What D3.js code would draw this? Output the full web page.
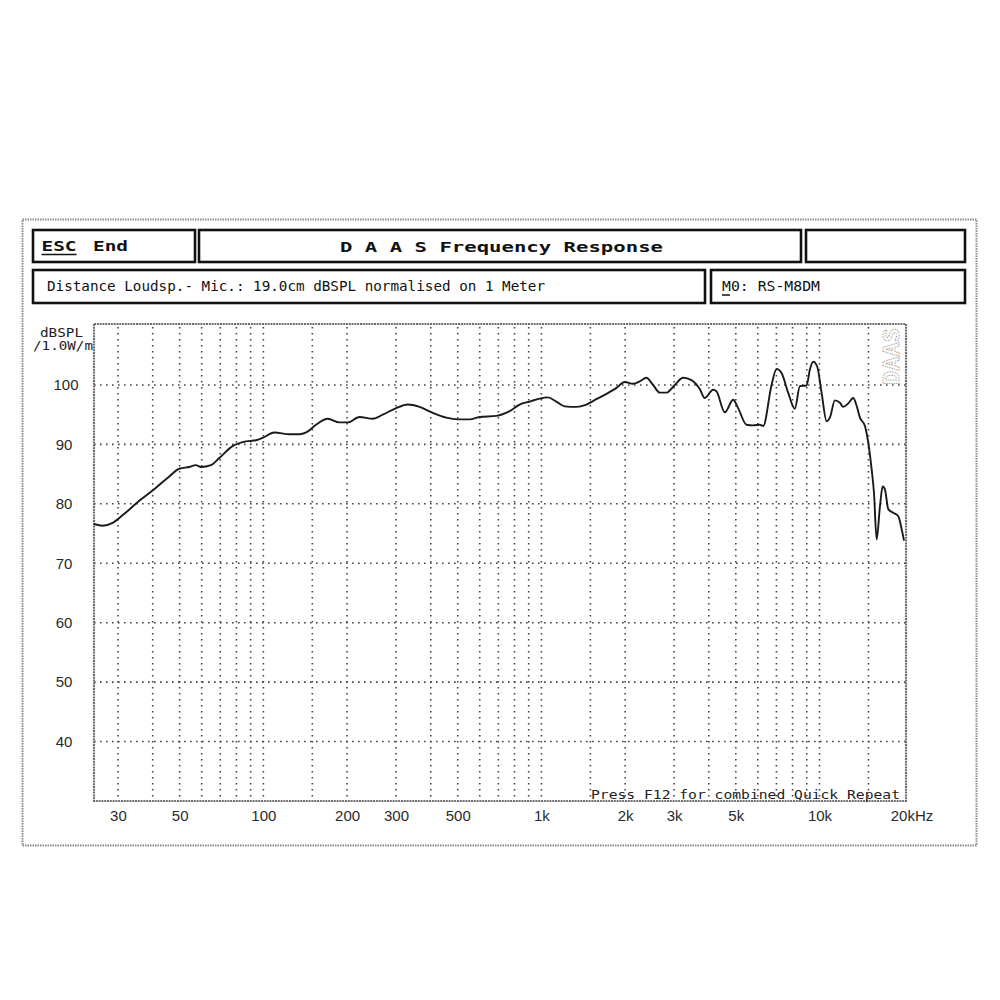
<!DOCTYPE html>
<html><head><meta charset="utf-8">
<script src="https://cdn.jsdelivr.net/npm/d3@7"></script>
<style>html,body{margin:0;padding:0;background:#fff;}</style>
</head><body>
<svg id="chart" width="1000" height="1000"></svg>
<script>
// ---- data ----
const freqHz = [24.6,26.4,28.7,31.2,35.8,41.1,45.9,49.8,54.2,57.2,59.7,64.8,69.4,77.5,86.6,94.1,99.4,109.5,124.1,134.8,142.5,154.8,170.4,187.8,201.2,221.6,247.4,268.8,300.4,330.7,364.4,406.9,454.7,500.6,551.4,599.1,688.2,768.6,834.8,907,985.1,1055,1131,1212,1336,1451,1576,1713,1861,1993,2136,2258,2386,2520,2664,2816,3017,3232,3463,3711,3868,4144,4263,4566,4893,5098,5466,5773,6103,6272,6724,7007,7304,7714,8155,8501,8986,9236,9490,9810,10175,10607,10900,11361,11842,12171,12687,13223,13600,13978,14570,14975,15402,15699,16054,16500,16873,17199,17677,18425,19204,19753,20134];
const splDb = [76.6,76.3,76.8,78.1,80.5,82.7,84.6,85.9,86.2,86.5,86.2,86.5,87.7,89.7,90.5,90.7,91.1,92.0,91.7,91.7,92.0,93.3,94.3,93.7,93.7,94.6,94.3,95.0,96.1,96.7,96.3,95.3,94.5,94.2,94.2,94.6,94.8,95.6,96.7,97.2,97.7,97.9,97.2,96.4,96.3,96.7,97.6,98.5,99.5,100.5,100.2,100.6,101.2,100.0,98.7,98.7,100.0,101.2,100.8,99.3,97.8,99.2,98.9,95.4,97.5,96.1,93.3,93.2,93.3,93.1,100.0,102.7,102.0,98.7,96.0,99.8,99.9,102.6,103.9,103.1,98.7,93.9,94.5,97.4,97.0,96.3,96.9,97.8,96.5,94.5,93.1,90.3,85.8,81.9,74.0,79.6,82.9,82.4,79.1,78.5,77.9,75.7,73.8];
const xGridHz = [30,40,50,60,70,80,90,100,150,200,300,400,500,600,700,800,900,1000,1500,2000,3000,4000,5000,6000,7000,8000,9000,10000,15000];
const yGridDb = [40,50,60,70,80,90,100];
const xTickHz = [30,50,100,200,300,500,1000,2000,3000,5000,10000,20000];
const xTickLabels = ["30","50","100","200","300","500","1k","2k","3k","5k","10k","20kHz"];
const yTickLabels = ["40","50","60","70","80","90","100"];
const titleText = "D A A S  Frequency Response";
const escText = "ESC";
const endText = "End";
const infoText = "Distance Loudsp.- Mic.: 19.0cm dBSPL normalised on 1 Meter";
const modelText = "M0: RS-M8DM";
const yUnitLines = ["dBSPL", "/1.0W/m"];
const footerText = "Press F12 for combined Quick Repeat";
const watermark = "DAAS";

// ---- layout ----
const svg = d3.select("#chart");
const L = 94, R = 906, T = 324, B = 801;
const x = d3.scaleLog().domain([24.6, 20470]).range([L, R]);
const y = d3.scaleLinear().domain([30, 110.25]).range([B, T]);
const mono = "'DejaVu Sans Mono', 'Liberation Mono', monospace";
const sans = "'Liberation Sans', Arial, sans-serif";

// outer frame
svg.append("rect").attr("x", 22.5).attr("y", 219.5).attr("width", 954).attr("height", 626)
  .attr("fill", "none").attr("stroke", "#8c8c8c").attr("stroke-width", 2).attr("stroke-dasharray", "1.5 1");

// header boxes
const boxes = [[33,230,195,262],[199,230,801,262],[806,230,965,262],[33,270,705,303],[711,270,965,303]];
svg.selectAll("rect.hdr").data(boxes).join("rect").attr("class","hdr")
  .attr("x", d=>d[0]).attr("y", d=>d[1]).attr("width", d=>d[2]-d[0]).attr("height", d=>d[3]-d[1])
  .attr("fill","none").attr("stroke","#111").attr("stroke-width",2.6);

function txt(s, xx, yy, opts) {
  const t = svg.append("text").attr("x", xx).attr("y", yy).text(s)
    .attr("font-family", opts.family || mono).attr("font-size", opts.size || 14)
    .attr("font-weight", opts.weight || "normal").attr("fill", opts.fill || "#111");
  if (opts.len) t.attr("textLength", opts.len).attr("lengthAdjust", "spacingAndGlyphs");
  if (opts.anchor) t.attr("text-anchor", opts.anchor);
  return t;
}
txt(escText, 41.5, 251, {size: 14, weight: "bold", len: 35});
svg.append("line").attr("x1", 41.5).attr("x2", 76.5).attr("y1", 254.5).attr("y2", 254.5).attr("stroke", "#111").attr("stroke-width", 1.5);
txt(endText, 93, 251, {size: 14, weight: "bold", len: 35});
txt(titleText, 340, 252, {size: 14, weight: "bold", len: 323});
txt(infoText, 47, 291, {size: 13.5, len: 498});
txt(modelText, 722, 291, {size: 13.5, len: 98});
svg.append("line").attr("x1", 722).attr("x2", 730).attr("y1", 295).attr("y2", 295).attr("stroke", "#111").attr("stroke-width", 1.5);

// y unit label
txt(yUnitLines[0], 40, 337, {size: 12, len: 43, fill: "#222"});
txt(yUnitLines[1], 33, 350, {size: 12, len: 60, fill: "#222"});

// grid
const grid = svg.append("g");
grid.selectAll("line.v").data(xGridHz).join("line").attr("class","v")
  .attr("x1", d=>x(d)).attr("x2", d=>x(d)).attr("y1", T+3).attr("y2", B)
  .attr("stroke", "#444").attr("stroke-width", 1.6).attr("stroke-dasharray", "1.6 4.4");
grid.selectAll("line.h").data(yGridDb).join("line").attr("class","h")
  .attr("x1", L).attr("x2", R).attr("y1", d=>y(d)).attr("y2", d=>y(d))
  .attr("stroke", "#444").attr("stroke-width", 1.6).attr("stroke-dasharray", "1.6 4.4");

// watermark
svg.append("text").attr("transform", `translate(899,385) rotate(-90)`).text(watermark)
  .attr("font-family", mono).attr("font-size", 22).attr("font-weight", "bold")
  .attr("textLength", 57).attr("lengthAdjust", "spacingAndGlyphs")
  .attr("fill", "none").attr("stroke", "#9a9a9a").attr("stroke-width", 1).attr("stroke-dasharray", "1.2 1.2");

// plot border
svg.append("rect").attr("x", L).attr("y", T).attr("width", R-L).attr("height", B-T)
  .attr("fill", "none").attr("stroke", "#6e6e6e").attr("stroke-width", 2.2).attr("stroke-dasharray", "2 0.8");

// curve
const pts = freqHz.map((f,i)=>[f, splDb[i]]);
svg.append("path").datum(pts)
  .attr("d", d3.line().x(d=>x(d[0])).y(d=>y(d[1])).curve(d3.curveMonotoneX))
  .attr("fill", "none").attr("stroke", "#1a1a1a").attr("stroke-width", 1.9).attr("stroke-linejoin", "round");

// axes
const xAxis = svg.append("g").attr("transform", `translate(0,${B})`)
  .call(d3.axisBottom(x).tickValues(xTickHz).tickFormat((d,i)=>xTickLabels[i]).tickSize(0).tickPadding(0));
xAxis.select(".domain").remove();
xAxis.selectAll("text").attr("font-family", sans).attr("font-size", 15).attr("fill", "#2a2a2a")
  .attr("dy", null).attr("y", 20)
  .each(function(d){ if (d === 20000) d3.select(this).attr("text-anchor","start").attr("x", -13); });

const yAxis = svg.append("g").attr("transform", `translate(${L},0)`)
  .call(d3.axisLeft(y).tickValues(yGridDb).tickFormat((d,i)=>yTickLabels[i]).tickSize(0).tickPadding(0));
yAxis.select(".domain").remove();
yAxis.selectAll("text").attr("font-family", sans).attr("font-size", 15).attr("fill", "#2a2a2a")
  .attr("text-anchor", "middle").attr("x", d => d === 100 ? -28 : -30);

// footer text
txt(footerText, 591, 799, {size: 13, len: 309, fill: "#222"});
</script>
</body></html>
